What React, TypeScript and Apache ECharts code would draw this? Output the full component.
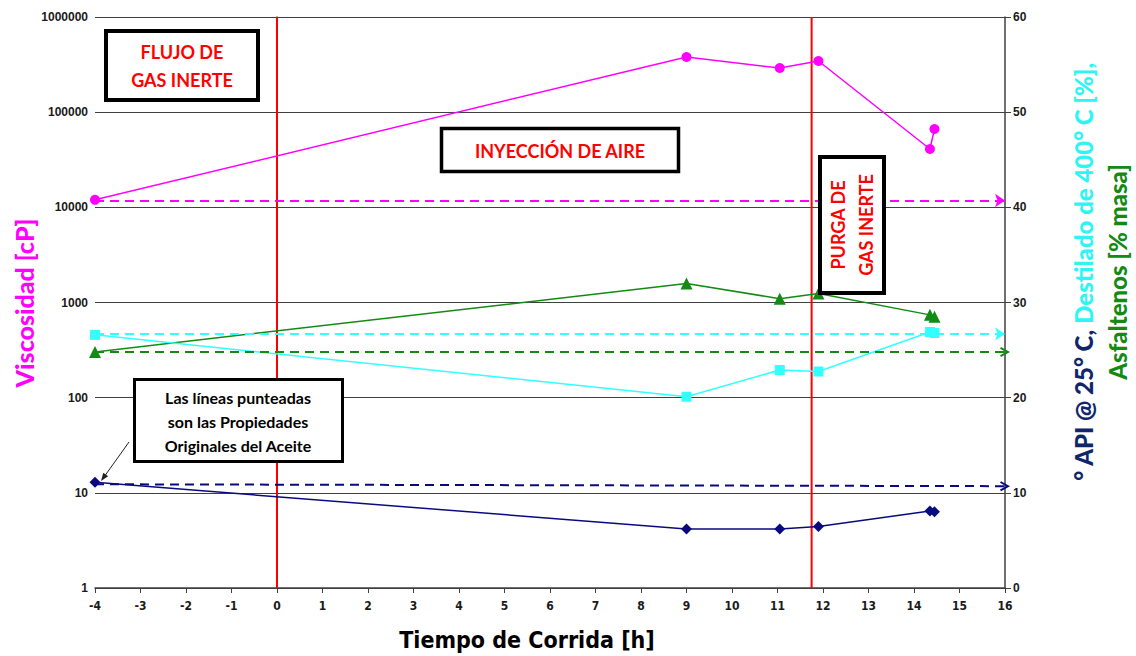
import React, { useEffect, useRef } from 'react';
import * as echarts from 'echarts';

// Run time [h]
const xTimes = [-4, 9, 11.05, 11.9, 14.35, 14.45];
// Viscosity [cP] (left, log)
const viscosity = [12000, 380000, 291000, 345000, 41000, 66500];
// Asphaltenes [% mass] (right)
const asphaltenes = [24.8, 32.0, 30.4, 30.95, 28.7, 28.5];
// Distillate at 400 °C [%] (right)
const distillate = [26.6, 20.1, 22.9, 22.75, 26.9, 26.8];
// °API @ 25 °C (right)
const api = [11.1, 6.2, 6.2, 6.45, 8.1, 8.0];

// Original oil properties (dashed lines)
const origViscosity = 11800;
const origDistillate = 26.7;
const origAsphaltenes = 24.8;
const origApi = [10.9, 10.7];
const originalSpan = [-4, 16];

// Process phase boundaries [h]
const phaseBoundaries = [0, 11.75];

const leftTicks = [1, 10, 100, 1000, 10000, 100000, 1000000];

const MAG = '#FF00FF';
const CYAN = '#33FFFF';
const GREEN = '#138A13';
const NAVY = '#0A0A80';
const AXIS = '#404040';

const chevron = 'path://M5,0 L10,9 L8.3,10 L5,4 L1.7,10 L0,9 Z';

function pairs(ys: number[]) {
  return xTimes.map((x, i) => [x, ys[i]]);
}

function dashed(color: string, y0: number, y1: number, symbol: string) {
  return {
    silent: true,
    symbol: ['none', symbol],
    symbolSize: 10,
    label: { show: false },
    emphasis: { disabled: true },
    lineStyle: { color, type: [9, 6], width: 2 },
    data: [[{ coord: [originalSpan[0], y0] }, { coord: [originalSpan[1], y1] }]],
  };
}

export default function App() {
  const ref = useRef<HTMLDivElement>(null);
  useEffect(() => {
    document.body.style.margin = '0';
    const chart = echarts.init(ref.current!, null, { renderer: 'svg' });
    const tickFont = { fontFamily: 'Liberation Sans, Arial', fontWeight: 'bold' as const, fontSize: 12, color: '#1a1a1a' };
    const boxText = { fontFamily: 'Lato, Open Sans', fontWeight: 'bold', fontSize: 18, fill: '#FF0000' };
    const rt = { fontFamily: 'Lato, Open Sans', fontWeight: 900, fontSize: 24, lineHeight: 34 };

    const option: any = {
      animation: false,
      grid: { left: 95, right: 131, top: 17, bottom: 68 },
      xAxis: {
        type: 'value',
        min: -4,
        max: 16,
        interval: 1,
        axisLine: { show: true, lineStyle: { color: AXIS, width: 1.5 } },
        axisTick: { show: true, length: 5, lineStyle: { color: AXIS } },
        splitLine: { show: false },
        axisLabel: {
          fontFamily: 'Liberation Sans Narrow, DejaVu Sans Condensed, Arial',
          fontWeight: 'bold',
          fontSize: 12,
          color: '#1a1a1a',
          margin: 12,
        },
      },
      yAxis: [
        {
          type: 'log',
          logBase: 10,
          min: 1,
          max: 1000000,
          position: 'left',
          axisLine: { show: true, lineStyle: { color: AXIS, width: 1.5 } },
          axisTick: { show: true, length: 5, lineStyle: { color: AXIS } },
          splitLine: { show: true, lineStyle: { color: AXIS, width: 1.2 } },
          axisLabel: {
            ...tickFont,
            margin: 7,
            formatter: (v: number) => {
              const r = leftTicks.find((t) => Math.abs(t - v) / t < 1e-6);
              return r !== undefined ? String(r) : '';
            },
          },
        },
        {
          type: 'value',
          min: 0,
          max: 60,
          interval: 10,
          position: 'right',
          axisLine: { show: true, lineStyle: { color: AXIS, width: 1.5 } },
          axisTick: { show: true, length: 6, lineStyle: { color: AXIS } },
          splitLine: { show: false },
          axisLabel: { ...tickFont, margin: 8 },
        },
      ],
      series: [
        {
          name: 'phase0',
          type: 'line',
          yAxisIndex: 1,
          silent: true,
          symbol: 'none',
          data: [[phaseBoundaries[0], 0], [phaseBoundaries[0], 60]],
          lineStyle: { color: '#FF0000', width: 2 },
          z: 1,
        },
        {
          name: 'phase1',
          type: 'line',
          yAxisIndex: 1,
          silent: true,
          symbol: 'none',
          data: [[phaseBoundaries[1], 0], [phaseBoundaries[1], 60]],
          lineStyle: { color: '#FF0000', width: 2 },
          z: 1,
        },
        {
          name: 'Viscosidad',
          type: 'line',
          yAxisIndex: 0,
          data: pairs(viscosity),
          symbol: 'circle',
          symbolSize: 10,
          itemStyle: { color: MAG },
          lineStyle: { color: MAG, width: 1.5 },
          markLine: dashed(MAG, origViscosity, origViscosity, 'arrow'),
          z: 3,
        },
        {
          name: 'Asfaltenos',
          type: 'line',
          yAxisIndex: 1,
          data: pairs(asphaltenes),
          symbol: 'triangle',
          symbolSize: 12,
          itemStyle: { color: GREEN },
          lineStyle: { color: GREEN, width: 1.5 },
          markLine: dashed(GREEN, origAsphaltenes, origAsphaltenes, chevron),
          z: 3,
        },
        {
          name: 'Destilado',
          type: 'line',
          yAxisIndex: 1,
          data: pairs(distillate),
          symbol: 'rect',
          symbolSize: 10,
          itemStyle: { color: CYAN },
          lineStyle: { color: CYAN, width: 1.5 },
          markLine: dashed(CYAN, origDistillate, origDistillate, 'arrow'),
          z: 3,
        },
        {
          name: 'API',
          type: 'line',
          yAxisIndex: 1,
          data: pairs(api),
          symbol: 'diamond',
          symbolSize: 11,
          itemStyle: { color: NAVY },
          lineStyle: { color: NAVY, width: 1.5 },
          markLine: dashed(NAVY, origApi[0], origApi[1], chevron),
          z: 3,
        },
      ],
      graphic: [
        // axis titles
        {
          type: 'text',
          x: 24,
          y: 303,
          rotation: Math.PI / 2,
          z: 100,
          style: {
            text: 'Viscosidad [cP]',
            fill: MAG,
            fontFamily: 'Lato, Open Sans',
            fontWeight: 900,
            fontSize: 25,
            align: 'center',
            verticalAlign: 'middle',
          },
        },
        {
          type: 'text',
          x: 1100,
          y: 272,
          rotation: Math.PI / 2,
          z: 100,
          style: {
            text: '{a|° API @ 25° C, }{b|Destilado de 400° C [%],}\n{c|Asfaltenos [% masa]}',
            align: 'center',
            verticalAlign: 'middle',
            ...rt,
            rich: {
              a: { fill: '#10266B', ...rt },
              b: { fill: '#2EF5F5', ...rt },
              c: { fill: GREEN, ...rt },
            },
          },
        },
        {
          type: 'text',
          x: 527,
          y: 640,
          z: 100,
          style: {
            text: 'Tiempo de Corrida [h]',
            fill: '#000',
            fontFamily: 'Liberation Sans Narrow, DejaVu Sans Condensed, Arial',
            fontWeight: 'bold',
            fontSize: 23,
            align: 'center',
            verticalAlign: 'middle',
          },
        },
        // phase boxes
        {
          type: 'rect',
          z: 100,
          shape: { x: 106, y: 31, width: 152, height: 69 },
          style: { fill: '#fff', stroke: '#000', lineWidth: 4 },
        },
        {
          type: 'text',
          x: 182,
          y: 66,
          z: 101,
          style: { ...boxText, text: 'FLUJO DE\nGAS INERTE', lineHeight: 28, align: 'center', verticalAlign: 'middle' },
        },
        {
          type: 'rect',
          z: 100,
          shape: { x: 441.5, y: 128.5, width: 237, height: 43 },
          style: { fill: '#fff', stroke: '#000', lineWidth: 3.5 },
        },
        {
          type: 'text',
          x: 560,
          y: 151,
          z: 101,
          style: { ...boxText, text: 'INYECCIÓN DE AIRE', align: 'center', verticalAlign: 'middle' },
        },
        {
          type: 'rect',
          z: 100,
          shape: { x: 820, y: 157, width: 64, height: 136 },
          style: { fill: '#fff', stroke: '#000', lineWidth: 4 },
        },
        {
          type: 'text',
          x: 852,
          y: 225,
          rotation: Math.PI / 2,
          z: 101,
          style: { ...boxText, text: 'PURGA DE\nGAS INERTE', lineHeight: 28, align: 'center', verticalAlign: 'middle' },
        },
        // note box
        {
          type: 'rect',
          z: 100,
          shape: { x: 134.5, y: 379.5, width: 208, height: 82 },
          style: { fill: '#fff', stroke: '#000', lineWidth: 3 },
        },
        {
          type: 'text',
          x: 238,
          y: 421,
          z: 101,
          style: {
            text: 'Las líneas punteadas\nson las Propiedades\nOriginales del Aceite',
            fill: '#000',
            fontFamily: 'Lato, Open Sans',
            fontWeight: 'bold',
            fontSize: 16,
            lineHeight: 24,
            align: 'center',
            verticalAlign: 'middle',
          },
        },
        {
          type: 'line',
          z: 100,
          shape: { x1: 129, y1: 442, x2: 104, y2: 477 },
          style: { stroke: '#222', lineWidth: 1 },
        },
        {
          type: 'polygon',
          z: 100,
          shape: { points: [[101, 481], [108.1, 476.3], [103.3, 472.7]] },
          style: { fill: '#222' },
        },
      ],
    };
    chart.setOption(option);
    return () => chart.dispose();
  }, []);
  return <div ref={ref} style={{ width: 1136, height: 656 }} />;
}
